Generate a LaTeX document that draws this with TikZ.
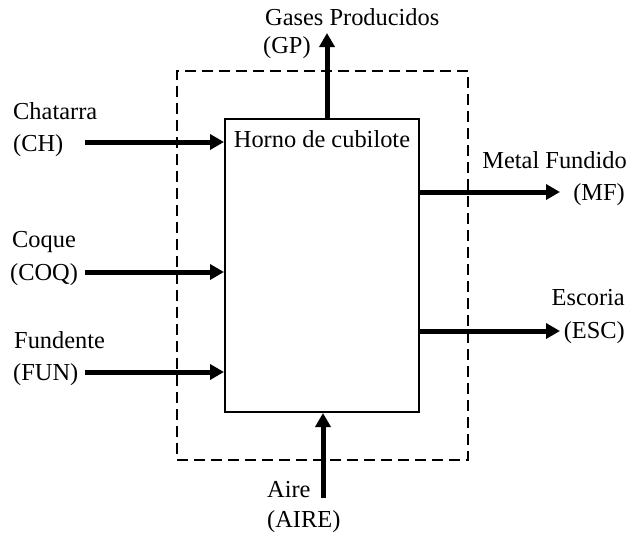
\documentclass[tikz,border=0pt]{standalone}
\usepackage{fontspec}
\setmainfont{Liberation Serif}
\usetikzlibrary{arrows.meta}
\begin{document}
\begin{tikzpicture}[x=1pt,y=-1pt,
  lbl/.style={inner sep=0pt, font=\fontsize{24.4}{30}\selectfont},
  flow/.style={line width=5pt, -{Triangle[length=14pt,width=15pt]}},
  furnace/.style={draw, line width=2pt, minimum width=194pt, minimum height=293pt, inner sep=0pt},
  sysbound/.style={draw, line width=2.4pt, dash pattern=on 11pt off 6pt, minimum width=291pt, minimum height=389pt, inner sep=0pt}]
\useasboundingbox (0,0) rectangle (627,533);
% boundary and furnace
\node[sysbound] (sys) at (322.5,265.5) {};
\node[furnace] (box) at (322,265.5) {};
\node[lbl, anchor=base] (boxlbl) at (322,147) {Horno de cubilote};
% labels
\node[lbl, anchor=base west] (ch1) at (13,119) {Chatarra};
\node[lbl, anchor=base west] (ch2) at (13,151) {(CH)};
\node[lbl, anchor=base west] (coq1) at (12,247) {Coque};
\node[lbl, anchor=base west] (coq2) at (10,280) {(COQ)};
\node[lbl, anchor=base west] (fun1) at (14,348) {Fundente};
\node[lbl, anchor=base west] (fun2) at (13,380) {(FUN)};
\node[lbl, anchor=base west] (gp1) at (265,25) {Gases Producidos};
\node[lbl, anchor=base west] (gp2) at (263,53) {(GP)};
\node[lbl, anchor=base east] (mf1) at (627,168) {Metal Fundido};
\node[lbl, anchor=base east] (mf2) at (625,200) {(MF)};
\node[lbl, anchor=base east] (esc1) at (625,305) {Escoria};
\node[lbl, anchor=base east] (esc2) at (625,338) {(ESC)};
\node[lbl, anchor=base west] (aire1) at (267,497) {Aire};
\node[lbl, anchor=base west] (aire2) at (267,527) {(AIRE)};
% free ends
\coordinate (chS) at (85,142);
\coordinate (coqS) at (85,272);
\coordinate (funS) at (85,372);
\coordinate (gpE) at (327,33);
\coordinate (mfE) at (560,192);
\coordinate (escE) at (560,331);
\coordinate (aireS) at (323,498);
% flows
\draw[flow] (chS) -- (chS -| box.west);
\draw[flow] (coqS) -- (coqS -| box.west);
\draw[flow] (funS) -- (funS -| box.west);
\draw[flow] (gpE |- box.north) -- (gpE);
\draw[flow] (mfE -| box.east) -- (mfE);
\draw[flow] (escE -| box.east) -- (escE);
\draw[flow] (aireS) -- (aireS |- box.south);
\end{tikzpicture}
\end{document}
